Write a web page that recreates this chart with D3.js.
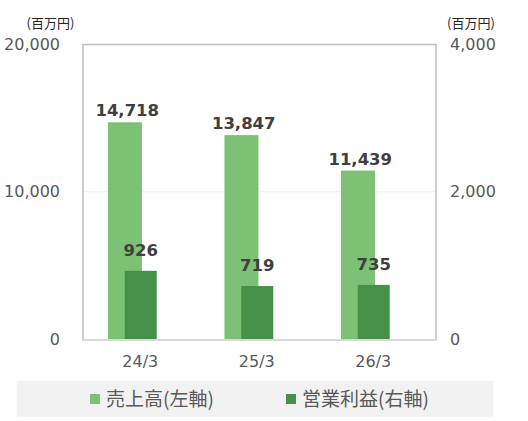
<!DOCTYPE html>
<html>
<head>
<meta charset="utf-8">
<script src="https://cdn.jsdelivr.net/npm/d3@7"></script>
<style>
  body { margin: 0; background: #fff; }
  svg { display: block; }
</style>
</head>
<body>
<svg id="chart" width="528" height="421"></svg>
<script>
// data
const categories = ["24/3", "25/3", "26/3"]
const sales = [14718, 13847, 11439]        // 売上高 (left axis)
const profit = [926, 719, 735]             // 営業利益 (right axis)
const leftTicks = [0, 10000, 20000]
const rightTicks = [0, 2000, 4000]
const seriesNames = ["売上高(左軸)", "営業利益(右軸)"]

const lightGreen = "#7dc174"
const darkGreen = "#469149"
const labelColor = "#404040"
const tickColor = "#595959"
const tickFont = "'DejaVu Sans', Verdana, sans-serif"
const cjkFont = "'Noto Sans CJK JP', 'Noto Sans', sans-serif"

const svg = d3.select("#chart")

const plotLeft = 83, plotRight = 436, plotTop = 44.5, plotBottom = 339

const x = d3.scaleBand().domain(categories).range([82, 431.5]).padding(0)
const yLeft = d3.scaleLinear().domain([0, 20000]).range([plotBottom, plotTop])
const yRight = d3.scaleLinear().domain([0, 4000]).range([plotBottom, plotTop])
const fmt = d3.format(",")

const center = d => x(d) + x.bandwidth() / 2

// gridline at 10,000
svg.append("g")
    .selectAll("line")
    .data(leftTicks.filter(t => t > 0 && t < 20000))
    .enter()
    .append("line")
    .attr("x1", plotLeft)
    .attr("x2", plotRight)
    .attr("y1", d => yLeft(d))
    .attr("y2", d => yLeft(d))
    .style("stroke", "#efefef")
    .style("stroke-width", 1)

// sales bars
svg.append("g")
    .selectAll("rect")
    .data(categories)
    .enter()
    .append("rect")
    .attr("x", d => center(d) - 32.3)
    .attr("width", 34)
    .attr("y", (d, i) => yLeft(sales[i]))
    .attr("height", (d, i) => plotBottom - yLeft(sales[i]))
    .style("fill", lightGreen)

// profit bars
svg.append("g")
    .selectAll("rect")
    .data(categories)
    .enter()
    .append("rect")
    .attr("x", d => center(d) - 15.5)
    .attr("width", 32)
    .attr("y", (d, i) => yRight(profit[i]))
    .attr("height", (d, i) => plotBottom - yRight(profit[i]))
    .style("fill", darkGreen)

// frame
svg.append("path")
    .attr("d", `M${plotLeft},${plotBottom}V${plotTop}H${plotRight}V${plotBottom}`)
    .style("fill", "none")
    .style("stroke", "#bfbfbf")
    .style("stroke-width", 1.5)
svg.append("line")
    .attr("x1", plotLeft - 1)
    .attr("x2", plotRight + 1)
    .attr("y1", plotBottom + 1)
    .attr("y2", plotBottom + 1)
    .style("stroke", "#d9d9d9")
    .style("stroke-width", 2)

// value labels
svg.append("g")
    .selectAll("text")
    .data(categories)
    .enter()
    .append("text")
    .attr("x", d => center(d) - 13)
    .attr("y", (d, i) => yLeft(sales[i]) - 6)
    .attr("text-anchor", "middle")
    .style("font-family", tickFont)
    .style("font-weight", "bold")
    .style("font-size", "16.5px")
    .style("fill", labelColor)
    .text((d, i) => fmt(sales[i]))

svg.append("g")
    .selectAll("text")
    .data(categories)
    .enter()
    .append("text")
    .attr("x", d => center(d) + 0.5)
    .attr("y", (d, i) => yRight(profit[i]) - 15)
    .attr("text-anchor", "middle")
    .style("font-family", tickFont)
    .style("font-weight", "bold")
    .style("font-size", "16.5px")
    .style("fill", labelColor)
    .text((d, i) => fmt(profit[i]))

// axes
const leftAxis = svg.append("g")
    .attr("transform", "translate(60,0)")
    .call(d3.axisLeft(yLeft).tickValues(leftTicks).tickFormat(fmt).tickSize(0).tickPadding(0))
const rightAxis = svg.append("g")
    .attr("transform", "translate(450,0)")
    .call(d3.axisRight(yRight).tickValues(rightTicks).tickFormat(fmt).tickSize(0).tickPadding(0))
const bottomAxis = svg.append("g")
    .attr("transform", `translate(0,${plotBottom})`)
    .call(d3.axisBottom(x).tickSize(0).tickPadding(17))

for (const ax of [leftAxis, rightAxis, bottomAxis]) {
    ax.select(".domain").remove()
    ax.selectAll("text")
        .style("font-family", tickFont)
        .style("font-size", "16px")
        .style("fill", tickColor)
}
bottomAxis.selectAll("text").attr("dy", "0.71em")

// unit labels
svg.append("text")
    .attr("x", 50.5)
    .attr("y", 27.5)
    .attr("text-anchor", "middle")
    .style("font-family", cjkFont)
    .style("font-size", "13px")
    .style("fill", "#262626")
    .text("(百万円)")
svg.append("text")
    .attr("x", 471)
    .attr("y", 27.5)
    .attr("text-anchor", "middle")
    .style("font-family", cjkFont)
    .style("font-size", "13px")
    .style("fill", "#262626")
    .text("(百万円)")

// legend
svg.append("rect")
    .attr("x", 16.7)
    .attr("y", 381)
    .attr("width", 476.6)
    .attr("height", 35.7)
    .style("fill", "#f2f2f2")

const legendItems = [
    { name: seriesNames[0], color: lightGreen, x: 90 },
    { name: seriesNames[1], color: darkGreen, x: 286 }
]
const legend = svg.append("g")
    .selectAll("g")
    .data(legendItems)
    .enter()
    .append("g")
    .attr("transform", d => `translate(${d.x},394)`)
legend.append("rect")
    .attr("width", 10)
    .attr("height", 10)
    .style("fill", d => d.color)
legend.append("text")
    .attr("x", 16)
    .attr("y", 12)
    .style("font-family", cjkFont)
    .style("font-size", "19px")
    .style("fill", tickColor)
    .text(d => d.name)
</script>
</body>
</html>
